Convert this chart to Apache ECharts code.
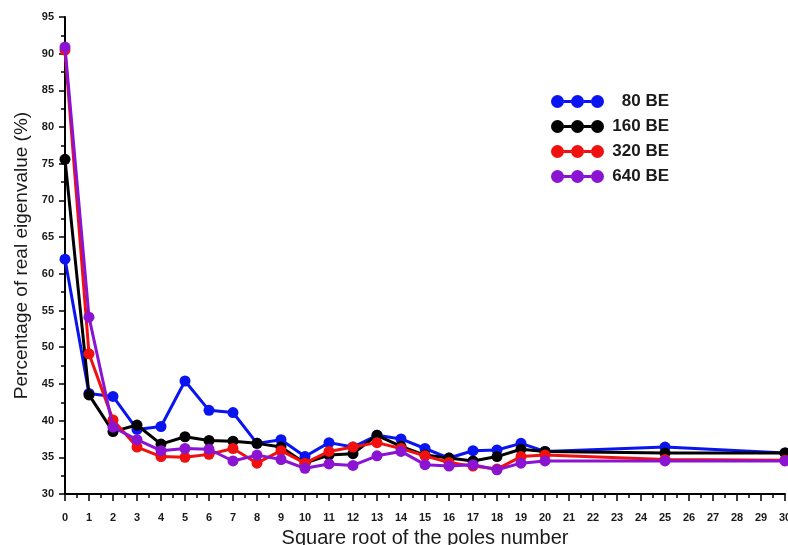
<!DOCTYPE html>
<html>
<head>
<meta charset="utf-8">
<script src="https://cdn.jsdelivr.net/npm/echarts@6/dist/echarts.min.js"></script>
<style>html,body{margin:0;padding:0;background:#fff}#c{width:788px;height:545px}</style>
</head>
<body>
<div id="c"></div>
<script>
var xs = [0,1,2,3,4,5,6,7,8,9,10,11,12,13,14,15,16,17,18,19,20,25,30];
var be80  = [62.0,43.7,43.3,38.8,39.2,45.4,41.4,41.1,36.9,37.4,35.1,37.0,36.4,38.0,37.5,36.2,34.9,35.9,36.0,36.9,35.8,36.4,35.6];
var be160 = [75.6,43.5,38.5,39.4,36.8,37.8,37.3,37.2,36.9,36.4,34.2,35.3,35.5,38.0,36.5,35.3,34.9,34.5,35.1,36.1,35.8,35.6,35.6];
var be320 = [90.5,49.1,40.1,36.4,35.1,35.0,35.4,36.2,34.2,35.9,34.2,35.8,36.4,37.0,36.2,35.2,34.3,33.8,33.4,35.1,35.3,34.7,34.6];
var be640 = [90.9,54.1,39.1,37.4,35.9,36.2,36.1,34.5,35.3,34.7,33.5,34.1,33.9,35.2,35.8,34.0,33.8,34.0,33.3,34.2,34.5,34.5,34.5];
var names = ['80 BE','160 BE','320 BE','640 BE'];
var colors = ['#0a14f0','#000000','#f01010','#8a14d2'];
var yTicks = {min:30, max:95, step:5};
var xTicks = {min:0, max:30, step:1};

function pairs(v){ return xs.map(function(x,i){ return [x, v[i]]; }); }
var icon = 'path://M0,6.5a6.5,6.5 0 1,0 13,0a6.5,6.5 0 1,0 -13,0z M20,6.5a6.5,6.5 0 1,0 13,0a6.5,6.5 0 1,0 -13,0z M40,6.5a6.5,6.5 0 1,0 13,0a6.5,6.5 0 1,0 -13,0z M12.8,5h7.4v3h-7.4z M32.8,5h7.4v3h-7.4z';
var data = [be80,be160,be320,be640];
var series = data.map(function(v,i){
  return {
    name: names[i], type:'line', data: pairs(v),
    symbol:'circle', symbolSize:11,
    lineStyle:{width:3, color:colors[i]},
    itemStyle:{color:colors[i]},
    z: 2+i
  };
});
var chart = echarts.init(document.getElementById('c'));
chart.setOption({
  animation:false,
  backgroundColor:'#fff',
  grid:{left:65, right:3, top:17, bottom:51, containLabel:false, outerBoundsMode:'none'},
  legend:{
    orient:'vertical', left:546, top:88, itemWidth:53, itemHeight:13, itemGap:8,
    icon: icon,
    data: names.map(function(n,i){ return {name:n, icon:icon, itemStyle:{color:colors[i]}}; }),
    formatter: function(n){ return '{a|' + n + '}'; },
    textStyle:{fontFamily:'Liberation Sans, Arial', fontWeight:'bold', fontSize:17, color:'#1a1a1a',
      rich:{a:{fontFamily:'Liberation Sans, Arial', fontWeight:'bold', fontSize:17, color:'#1a1a1a', width:60, align:'right'}}}
  },
  xAxis:{
    type:'value', min:xTicks.min, max:xTicks.max, interval:xTicks.step,
    name:'Square root of the poles number', nameLocation:'middle', nameGap:34,
    nameTextStyle:{fontFamily:'Liberation Sans, Arial', fontSize:20, color:'#1a1a1a'},
    axisLine:{lineStyle:{color:'#000', width:2}},
    axisTick:{length:7, lineStyle:{color:'#000', width:1.5}},
    minorTick:{show:true, splitNumber:2, length:4, lineStyle:{color:'#000', width:1.5}},
    axisLabel:{fontFamily:'Liberation Sans, Arial', fontWeight:'bold', fontSize:11, color:'#1a1a1a', margin:18},
    splitLine:{show:false}
  },
  yAxis:{
    type:'value', min:yTicks.min, max:yTicks.max, interval:yTicks.step,
    name:'Percentage of real eigenvalue (%)', nameLocation:'middle', nameGap:29,
    nameTextStyle:{fontFamily:'Liberation Sans, Arial', fontSize:19, color:'#1a1a1a'},
    axisLine:{show:true, lineStyle:{color:'#000', width:2}},
    axisTick:{show:true, length:6, lineStyle:{color:'#000', width:1.5}},
    minorTick:{show:true, splitNumber:2, length:4, lineStyle:{color:'#000', width:1.5}},
    axisLabel:{fontFamily:'Liberation Sans, Arial', fontWeight:'bold', fontSize:11, color:'#1a1a1a', margin:11},
    splitLine:{show:false}
  },
  series: series
});
</script>
</body>
</html>
